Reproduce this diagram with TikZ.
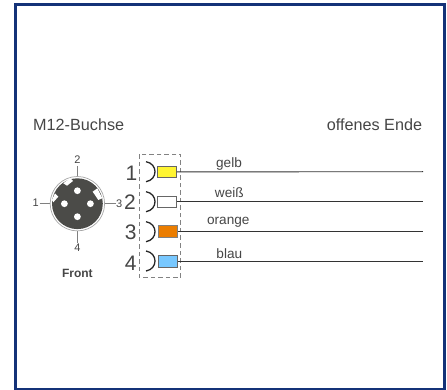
\documentclass[tikz,border=0pt]{standalone}
\usepackage{fontspec}
\setmainfont{Liberation Sans}
\definecolor{framec}{RGB}{20,50,120}
\definecolor{txt}{RGB}{70,70,70}
\definecolor{body}{RGB}{75,75,72}
\definecolor{dashc}{RGB}{130,130,130}
\definecolor{cyel}{RGB}{255,245,50}
\definecolor{cora}{RGB}{235,125,0}
\definecolor{cblu}{RGB}{120,200,255}
\tikzset{
  px/.style={x=1pt,y=-1pt},
  lab/.style={inner sep=0pt,text=txt,font=\fontsize{16.2}{18}\selectfont},
  bign/.style={inner sep=0pt,text=txt,font=\fontsize{21}{23}\selectfont},
  pinn/.style={inner sep=0pt,text=txt,font=\fontsize{11}{12}\selectfont},
  wiren/.style={inner sep=0pt,text=txt,font=\fontsize{13.6}{15}\selectfont},
  colbox/.style={draw=gray!80!black,line width=0.7pt,minimum width=19pt,minimum height=11.5pt,inner sep=0pt},
  wire/.style={draw=black!80,line width=0.9pt},
  pinline/.style={draw=gray,line width=0.7pt},
  socket/.style={draw=black!85,line width=1.3pt},
}
\begin{document}
\begin{tikzpicture}[px]
\useasboundingbox (0,0) rectangle (447,390);
\fill[white] (0,0) rectangle (447,390);
\draw[framec,line width=2.6pt] (15.5,4.8) -- (444.2,4.8) -- (444.2,389.2) -- (15.5,389.2) -- cycle;
\node[lab] (titleL) at (78.7,124.5) {M12-Buchse};
\node[lab] (titleR) at (374.5,124.5) {offenes Ende};
% connector face
\node[pinn] (p2) at (77.4,159.5) {2};
\node[pinn] (p4) at (77.4,248) {4};
\node[pinn] (p1) at (35.7,202.5) {1};
\node[pinn] (p3) at (119.3,203.5) {3};
\coordinate (c) at (77.4,203.7);
\draw[pinline] (77.4,166) -- (77.4,177);
\draw[pinline] (77.4,231) -- (77.4,242.5);
\draw[pinline] (39.5,203.7) -- (50,203.7);
\draw[pinline] (105,203.7) -- (115.5,203.7);
\draw[gray!70,line width=0.7pt] (c) circle (27.2);
\fill[body] (c) circle (25.4);
\fill[white] (63.3,183.3) -- (67,185.7) -- (73,181) -- (70.3,178) -- cycle;
\fill[white] (92.7,191.7) -- (97.3,188.3) -- (102.3,198.3) -- (98.3,200) -- cycle;
\fill[white] (55,193.3) -- (58.3,196.7) -- (53.3,202.3) -- (52,200) -- cycle;
\fill[white] (77.4,190.7) circle (3.4);
\fill[white] (77.4,216.7) circle (3.4);
\fill[white] (64.4,203.7) circle (3.4);
\fill[white] (90.4,203.7) circle (3.4);
\node[inner sep=0pt,text=txt,font=\fontsize{12}{14}\selectfont\bfseries] (front) at (77.4,273.5) {Front};
% dashed housing
\draw[dashc,dashed,line width=0.8pt,dash pattern=on 4.5pt off 3pt] (139.3,154.3) rectangle (180.7,277.7);
\node[bign] (n1) at (131.5,173) {1};
\node[bign] (n2) at (130,202.5) {2};
\node[bign] (n3) at (130.7,232) {3};
\node[bign] (n4) at (130.7,263) {4};
% wires ends
\coordinate (e1) at (423,171.7);
\coordinate (e2) at (423,201.7);
\coordinate (e3) at (423,231.3);
\coordinate (e4) at (423,261.3);
\node[colbox,fill=cyel] (b1) at (167,171.9) {};
\node[colbox,fill=white] (b2) at (167,201.7) {};
\node[colbox,fill=cora,draw=gray] (b3) at (167.8,231.3) {};
\node[colbox,fill=cblu] (b4) at (167.8,261.3) {};
\draw[wire] (b1.east) -- (e1);
\draw[wire] (b2.east) -- (e2);
\draw[wire] (b3.east) -- (e3);
\draw[wire] (b4.east) -- (e4);
\foreach \y in {171.7,201.7,231.7,261}{
  \draw[socket] (146,\y-10) .. controls (158,\y-8) and (158,\y+8) .. (146,\y+10);
}
\node[wiren] (w1) at (229,164) {gelb};
\node[wiren] (w2) at (229.3,192.7) {weiß};
\node[wiren] (w3) at (228.3,222.7) {orange};
\node[wiren] (w4) at (229.3,253.3) {blau};
\end{tikzpicture}
\end{document}
